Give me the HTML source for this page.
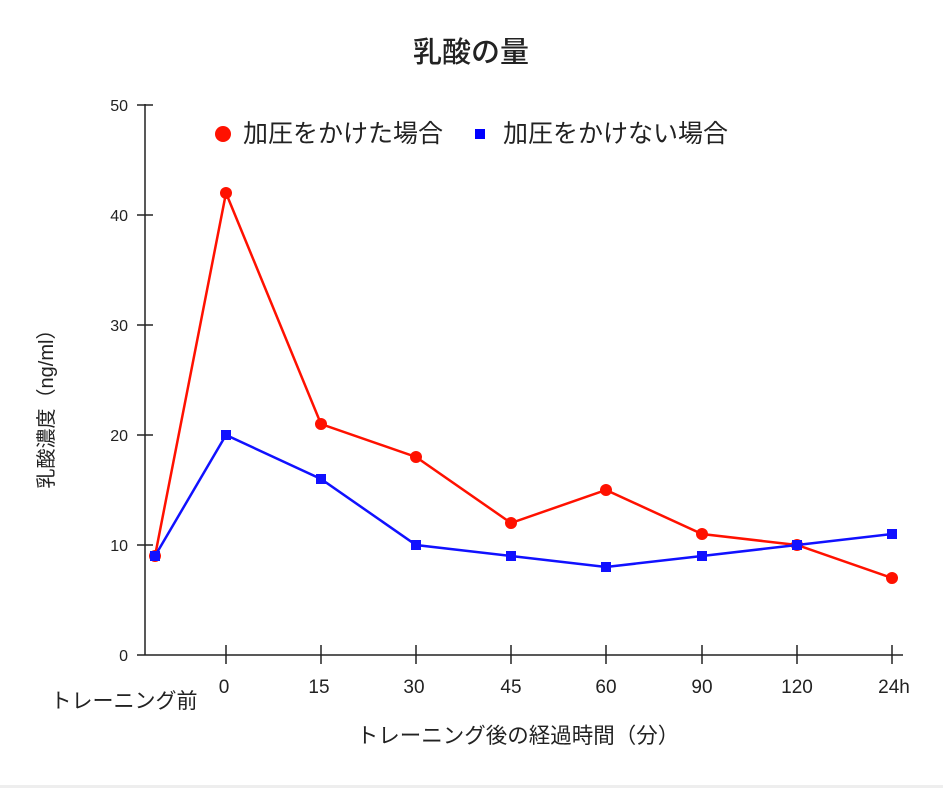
<!DOCTYPE html>
<html><head><meta charset="utf-8"><style>
html,body{margin:0;padding:0;background:#fff;}
svg{display:block;}
text{font-family:"Liberation Sans","Noto Sans CJK JP",sans-serif;fill:#222;}
</style></head><body>
<svg width="943" height="788" viewBox="0 0 943 788">
<rect x="0" y="0" width="943" height="785" fill="#fff"/>
<rect x="0" y="785" width="943" height="3" fill="#eee"/>
<text x="471" y="62" font-size="29" text-anchor="middle" style="font-weight:500">乳酸の量</text>
<g stroke="#222" stroke-width="1.5">
<line x1="145" y1="104" x2="145" y2="655"/>
<line x1="137" y1="655" x2="903" y2="655"/>
<line x1="137" y1="105" x2="153" y2="105"/>
<line x1="137" y1="215" x2="153" y2="215"/>
<line x1="137" y1="325" x2="153" y2="325"/>
<line x1="137" y1="435" x2="153" y2="435"/>
<line x1="137" y1="545" x2="153" y2="545"/>
<line x1="226" y1="645" x2="226" y2="664"/>
<line x1="321" y1="645" x2="321" y2="664"/>
<line x1="416" y1="645" x2="416" y2="664"/>
<line x1="511" y1="645" x2="511" y2="664"/>
<line x1="606" y1="645" x2="606" y2="664"/>
<line x1="702" y1="645" x2="702" y2="664"/>
<line x1="797" y1="645" x2="797" y2="664"/>
<line x1="892" y1="645" x2="892" y2="664"/>
</g>
<g font-size="16" text-anchor="end">
<text x="128" y="111">50</text><text x="128" y="221">40</text><text x="128" y="331">30</text>
<text x="128" y="441">20</text><text x="128" y="551">10</text><text x="128" y="661">0</text>
</g>
<g font-size="19" text-anchor="middle">
<text x="224" y="693">0</text><text x="319" y="693">15</text><text x="414" y="693">30</text>
<text x="511" y="693">45</text><text x="606" y="693">60</text><text x="702" y="693">90</text>
<text x="797" y="693">120</text><text x="894" y="693">24h</text>
</g>
<text x="124" y="708" font-size="21" text-anchor="middle">トレーニング前</text>
<text x="518" y="743" font-size="21.5" text-anchor="middle">トレーニング後の経過時間（分）</text>
<text transform="translate(53,404) rotate(-90)" font-size="20" text-anchor="middle">乳酸濃度（ng/ml）</text>
<circle cx="223" cy="134" r="8" fill="#f10"/>
<text x="243" y="142" font-size="25">加圧をかけた場合</text>
<rect x="475" y="129" width="10" height="10" fill="#00f"/>
<text x="503" y="142" font-size="25">加圧をかけない場合</text>
<polyline fill="none" stroke="#f10" stroke-width="2.5" points="155,556 226,193 321,424 416,457 511,523 606,490 702,534 797,545 892,578"/>
<g fill="#f10">
<circle cx="155" cy="556" r="6"/><circle cx="226" cy="193" r="6"/><circle cx="321" cy="424" r="6"/>
<circle cx="416" cy="457" r="6"/><circle cx="511" cy="523" r="6"/><circle cx="606" cy="490" r="6"/>
<circle cx="702" cy="534" r="6"/><circle cx="797" cy="545" r="6"/><circle cx="892" cy="578" r="6"/>
</g>
<polyline fill="none" stroke="#11f" stroke-width="2.5" points="155,556 226,435 321,479 416,545 511,556 606,567 702,556 797,545 892,534"/>
<g fill="#11f">
<rect x="150" y="551" width="10" height="10"/><rect x="221" y="430" width="10" height="10"/>
<rect x="316" y="474" width="10" height="10"/><rect x="411" y="540" width="10" height="10"/>
<rect x="506" y="551" width="10" height="10"/><rect x="601" y="562" width="10" height="10"/>
<rect x="697" y="551" width="10" height="10"/><rect x="792" y="540" width="10" height="10"/>
<rect x="887" y="529" width="10" height="10"/>
</g>
</svg>
</body></html>
